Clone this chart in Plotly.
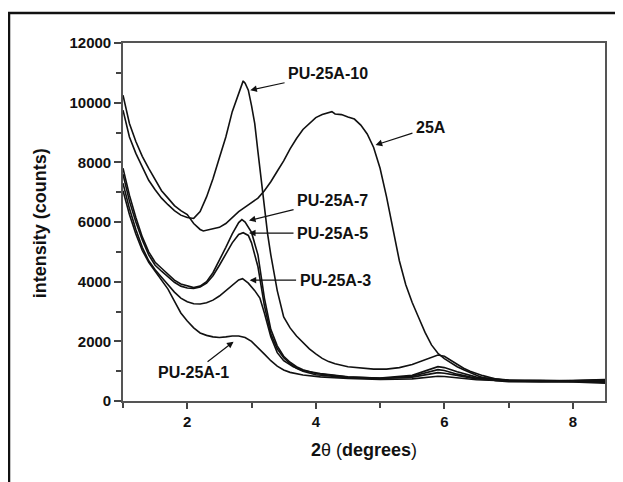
import plotly.graph_objects as go

# ---------------- data ----------------
x_25A = [1.0, 1.1, 1.2, 1.3, 1.4, 1.5, 1.6, 1.7, 1.8, 1.9, 2.0, 2.1, 2.2, 2.25, 2.3, 2.4, 2.5, 2.6, 2.7, 2.8,
         2.9, 3.0, 3.1, 3.2, 3.3, 3.4, 3.5, 3.6, 3.7, 3.8, 3.9, 4.0, 4.1, 4.2, 4.25, 4.3, 4.4, 4.5, 4.6, 4.7,
         4.8, 4.9, 5.0, 5.1, 5.2, 5.3, 5.4, 5.5, 5.6, 5.7, 5.8, 5.9, 6.0, 6.1, 6.2, 6.3, 6.4, 6.5, 6.6, 6.7,
         6.8, 6.9, 7.0, 7.5, 8.0, 8.5]
y_25A = [10250, 9300, 8700, 8200, 7800, 7400, 7050, 6800, 6550, 6380, 6250, 5950, 5750, 5700, 5720, 5780,
         5820, 5950, 6150, 6350, 6500, 6650, 6800, 7050, 7350, 7700, 8050, 8450, 8800, 9100, 9300, 9500,
         9600, 9650, 9700, 9620, 9600, 9520, 9450, 9250, 8950, 8500, 7800, 6850, 5750, 4700, 3900, 3300,
         2800, 2300, 1880, 1600, 1420, 1290, 1150, 1050, 950, 860, 780, 720, 680, 660, 650, 640, 650, 700]

x_pu10 = [1.0, 1.1, 1.2, 1.3, 1.4, 1.5, 1.6, 1.7, 1.8, 1.9, 2.0, 2.1, 2.2, 2.3, 2.4, 2.5, 2.6, 2.7, 2.8,
          2.87, 2.9, 2.95, 3.0, 3.05, 3.1, 3.15, 3.2, 3.25, 3.3, 3.4, 3.5, 3.6, 3.7, 3.8, 3.9, 4.0, 4.1,
          4.2, 4.3, 4.5, 4.7, 4.9, 5.1, 5.3, 5.5, 5.7, 5.9, 6.0, 6.1, 6.2, 6.3, 6.4, 6.6, 6.8, 7.0, 7.5,
          8.0, 8.5]
y_pu10 = [9750, 8850, 8300, 7850, 7400, 7080, 6800, 6580, 6380, 6230, 6150, 6120, 6350, 6840, 7450, 8150,
          8850, 9700, 10350, 10730, 10650, 10420, 9900, 9300, 8350, 7400, 6500, 5600, 4900, 3700, 2820,
          2450, 2180, 1950, 1750, 1580, 1430, 1320, 1250, 1150, 1100, 1070, 1070, 1120, 1220, 1380, 1540,
          1500, 1370, 1250, 1100, 1000, 850, 740, 690, 660, 680, 720]

x_pu7 = [1.0, 1.1, 1.2, 1.3, 1.4, 1.5, 1.6, 1.7, 1.8, 1.9, 2.0, 2.1, 2.2, 2.3, 2.4, 2.5, 2.6, 2.7, 2.8, 2.85,
         2.9, 3.0, 3.1, 3.2, 3.3, 3.4, 3.5, 3.6, 3.7, 3.8, 4.0, 4.5, 5.0, 5.5, 5.9, 6.0, 6.2, 6.5, 7.0, 7.5,
         8.0, 8.5]
y_pu7 = [7800, 6900, 6150, 5500, 5000, 4650, 4450, 4250, 4050, 3920, 3850, 3800, 3850, 4000, 4300, 4700,
         5150, 5600, 5980, 6080, 6000, 5650, 4900, 3450, 2400, 1850, 1500, 1300, 1150, 1050, 920, 800, 770,
         860, 1150, 1120, 980, 800, 700, 690, 680, 700]

x_pu5 = [1.0, 1.1, 1.2, 1.3, 1.4, 1.5, 1.6, 1.7, 1.8, 1.9, 2.0, 2.1, 2.2, 2.3, 2.4, 2.5, 2.6, 2.7, 2.8, 2.87,
         2.95, 3.0, 3.1, 3.2, 3.3, 3.4, 3.5, 3.6, 3.7, 3.8, 4.0, 4.5, 5.0, 5.5, 5.9, 6.0, 6.2, 6.5, 7.0, 7.5,
         8.0, 8.5]
y_pu5 = [7600, 6700, 6000, 5400, 4900, 4550, 4350, 4150, 3980, 3850, 3790, 3770, 3820, 3950, 4200, 4550,
         4950, 5300, 5580, 5640, 5550, 5300, 4500, 3200, 2250, 1750, 1450, 1250, 1100, 1000, 880, 780, 750,
         830, 1050, 1020, 900, 760, 690, 680, 670, 650]

x_pu3 = [1.0, 1.1, 1.2, 1.3, 1.4, 1.5, 1.6, 1.7, 1.8, 1.9, 2.0, 2.1, 2.2, 2.3, 2.4, 2.5, 2.6, 2.7, 2.8, 2.86,
         2.95, 3.05, 3.13, 3.2, 3.3, 3.4, 3.5, 3.65, 3.8, 4.07, 4.5, 5.0, 5.5, 5.9, 6.0, 6.2, 6.5, 7.0, 7.5,
         8.0, 8.5]
y_pu3 = [7300, 6450, 5750, 5150, 4700, 4400, 4150, 3900, 3650, 3450, 3330, 3260, 3250, 3290, 3380, 3520,
         3700, 3900, 4060, 4100, 3950, 3700, 3450, 2950, 2150, 1620, 1350, 1150, 1020, 920, 810, 760, 800,
         950, 930, 860, 740, 680, 670, 660, 620]

x_pu1 = [1.0, 1.1, 1.2, 1.3, 1.4, 1.5, 1.6, 1.7, 1.8, 1.9, 2.0, 2.1, 2.2, 2.3, 2.4, 2.5, 2.6, 2.7, 2.8, 2.9,
         3.0, 3.1, 3.2, 3.3, 3.4, 3.5, 3.6, 3.8, 4.07, 4.5, 5.0, 5.5, 5.9, 6.0, 6.2, 6.5, 7.0, 7.5, 8.0, 8.5]
y_pu1 = [7050, 6250, 5600, 5050, 4650, 4350, 4080, 3750, 3350, 2950, 2680, 2450, 2280, 2200, 2150, 2130,
         2150, 2180, 2180, 2130, 2000, 1800, 1570, 1350, 1170, 1040, 960, 870, 810, 760, 720, 740, 830, 820,
         780, 710, 670, 660, 640, 600]

series = [
    ("25A", x_25A, y_25A),
    ("PU-25A-10", x_pu10, y_pu10),
    ("PU-25A-7", x_pu7, y_pu7),
    ("PU-25A-5", x_pu5, y_pu5),
    ("PU-25A-3", x_pu3, y_pu3),
    ("PU-25A-1", x_pu1, y_pu1),
]

# label text, label centre (x, y), arrow head (x, y)
label_names = ["PU-25A-10", "25A", "PU-25A-7", "PU-25A-5", "PU-25A-3", "PU-25A-1"]
label_pos = [(4.19, 10980), (5.79, 9180), (4.26, 6730), (4.26, 5630), (4.30, 4050), (2.09, 940)]
arrow_head = [(2.98, 10420), (4.93, 8580), (2.96, 6050), (2.96, 5630), (2.97, 4050), (2.72, 1990)]

x_ticks = [2, 4, 6, 8]
y_ticks = [0, 2000, 4000, 6000, 8000, 10000, 12000]

FONT = "Liberation Sans, Arial, sans-serif"

fig = go.Figure()
for name, xs, ys in series:
    fig.add_trace(go.Scatter(x=xs, y=ys, mode="lines", name=name,
                             line=dict(color="#111111", width=1.6)))

for txt, (tx, ty), (hx, hy) in zip(label_names, label_pos, arrow_head):
    fig.add_annotation(x=hx, y=hy, ax=tx, ay=ty, xref="x", yref="y", axref="x", ayref="y",
                       text="<b>%s</b>" % txt, showarrow=True, arrowhead=2, arrowsize=1.1,
                       arrowwidth=1.2, arrowcolor="#111111", standoff=0, startstandoff=2,
                       font=dict(family=FONT, size=16, color="#111111"))

# axis titles
fig.add_annotation(x=0.5, y=-0.137, xref="paper", yref="paper", showarrow=False,
                   text="<b>2</b>θ (<b>degrees</b>)", xanchor="center", yanchor="middle",
                   font=dict(family=FONT, size=18, color="#111111"))
fig.add_annotation(x=-0.172, y=0.497, xref="paper", yref="paper", showarrow=False,
                   text="<b>intensity (counts)</b>", textangle=-90, xanchor="center", yanchor="middle",
                   font=dict(family=FONT, size=18, color="#111111"))

# outer frame (left and top border of the figure panel)
fig.add_shape(type="rect", xref="paper", yref="paper", x0=-0.2365, y0=-0.3, x1=1.2, y1=1.0838,
              line=dict(color="#111111", width=2.5), fillcolor="rgba(0,0,0,0)", layer="below")

# the page body has an 8 px default margin, so the figure is 8 px smaller
fig.update_layout(
    width=615, height=474,
    margin=dict(l=115, r=18, t=35, b=81),
    paper_bgcolor="white", plot_bgcolor="white",
    showlegend=False,
    font=dict(family=FONT, color="#111111"),
)
fig.update_xaxes(range=[1, 8.5], tickvals=x_ticks, ticktext=[str(v) for v in x_ticks],
                 ticks="outside", ticklen=6, tickwidth=1.5, tickcolor="#444",
                 minor=dict(dtick=1, tick0=0, ticks="outside", ticklen=5, tickwidth=1.5, tickcolor="#444"),
                 showline=True, linecolor="#555", linewidth=1.6, mirror=True,
                 showgrid=False, zeroline=False,
                 tickfont=dict(family=FONT, size=15, color="#111111", weight="bold"))
fig.update_yaxes(range=[0, 12000], tickvals=y_ticks, ticktext=[str(v) for v in y_ticks],
                 ticks="outside", ticklen=7, tickwidth=1.5, tickcolor="#444",
                 minor=dict(dtick=1000, tick0=0, ticks="outside", ticklen=5, tickwidth=1.5, tickcolor="#444"),
                 showline=True, linecolor="#555", linewidth=1.6, mirror=True,
                 showgrid=False, zeroline=False,
                 tickfont=dict(family=FONT, size=15, color="#111111", weight="bold"))

fig.write_html("out.html")
